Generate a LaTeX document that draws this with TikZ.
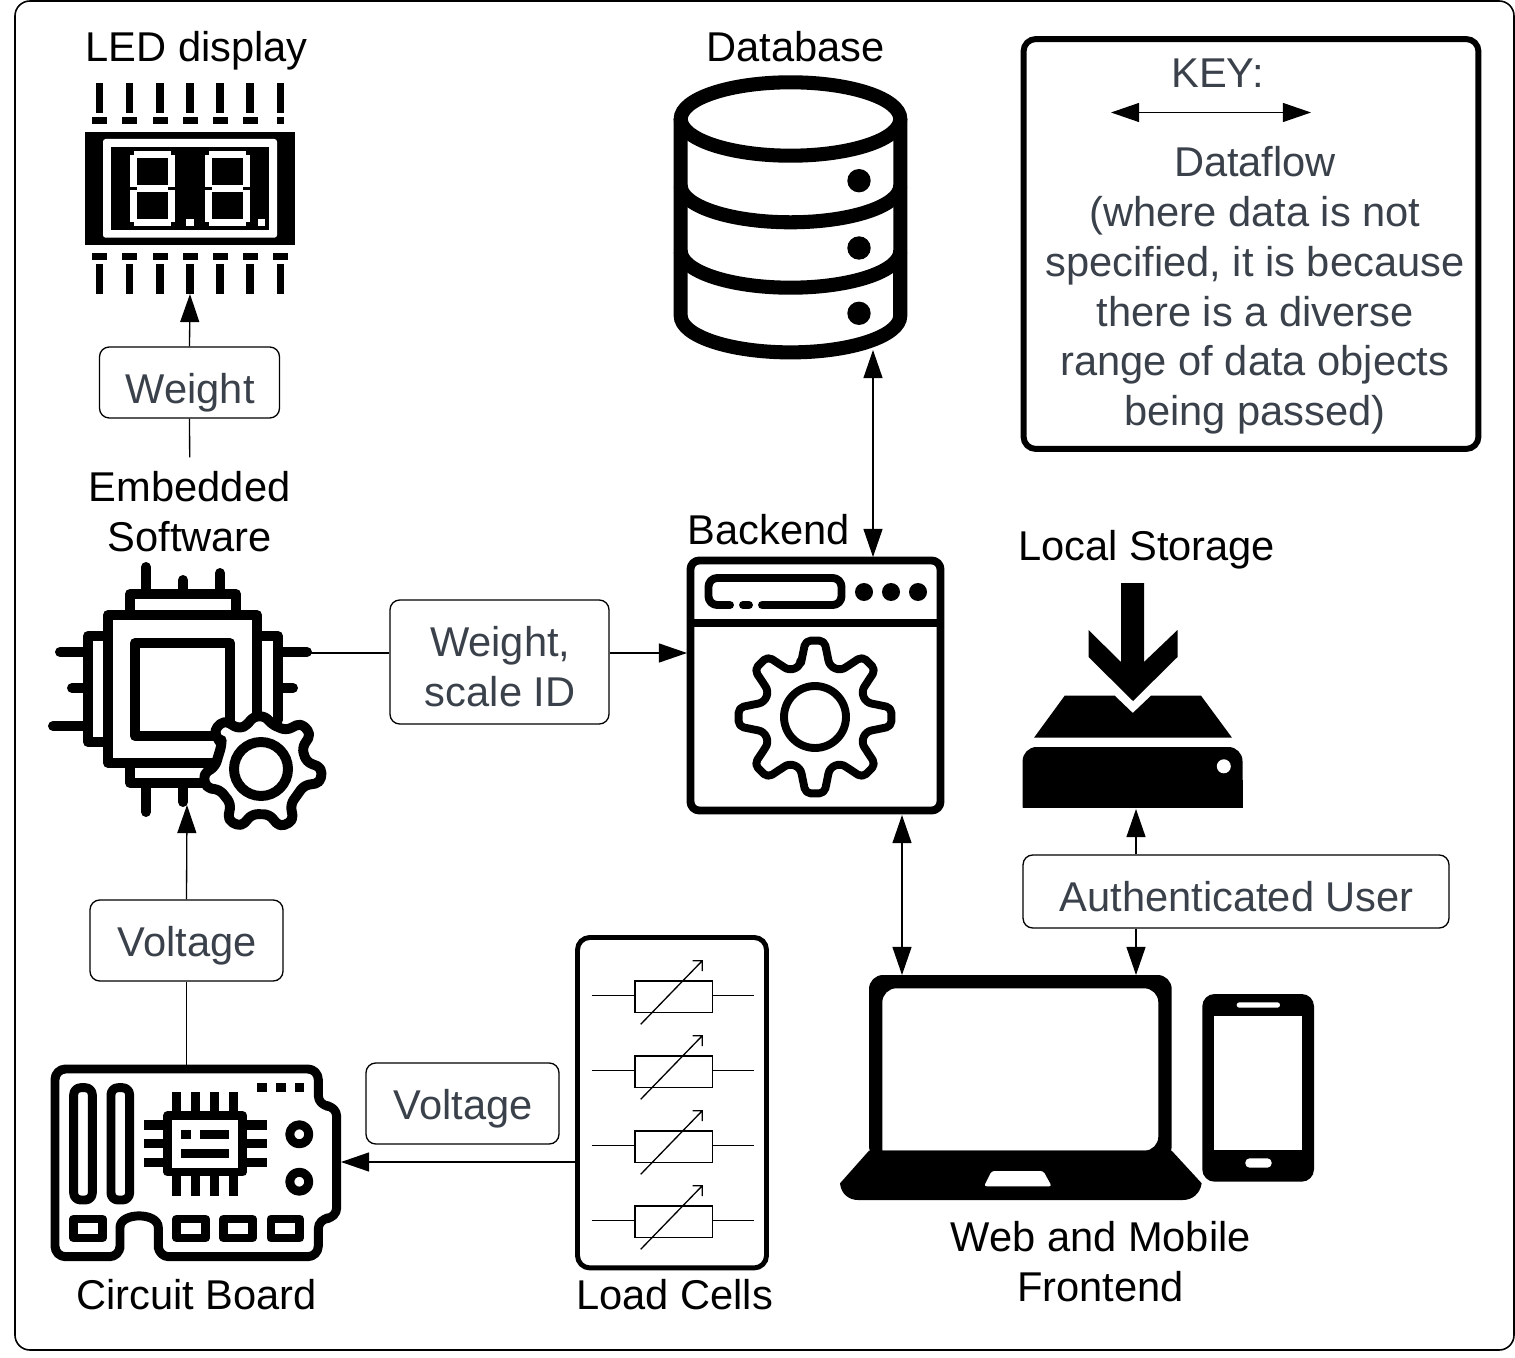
\documentclass[tikz,border=0pt]{standalone}
\usepackage{fontspec}
\setmainfont{Liberation Sans}
\usetikzlibrary{arrows.meta, positioning, calc}
\definecolor{slatetext}{HTML}{3A414A}

\begin{document}
\begin{tikzpicture}[
  x=0.02cm, y=-0.02cm,
  title/.style={font=\fontsize{23.7}{28.35}\selectfont, align=center, inner sep=3pt},
  datalabel/.style={draw, line width=0.75pt, rounded corners=5.5pt, fill=white, inner sep=0pt},
  labeltext/.style={yshift=-2.8pt, xshift=0.4pt, inner sep=0pt, align=center, text=slatetext, font=\fontsize{23.7}{28.35}\selectfont},
  icon/.style={inner sep=0pt, outer sep=0pt},
  flow/.style={line width=0.75pt, -{Triangle[length=16pt, width=10.8pt]}},
  biflow/.style={line width=0.75pt, {Triangle[length=16pt, width=10.8pt]}-{Triangle[length=16pt, width=10.8pt]}},
  plain/.style={line width=0.75pt},
  chipline/.style={line width=5.67pt, line cap=round, line join=round},
  boardline/.style={line width=5.1pt, line join=round},
  backline/.style={line width=4.5pt, line cap=round, line join=round},
  dbline/.style={line width=8pt}
]
  \useasboundingbox (0,0) rectangle (1515,1358);
  \fill[white] (0,0) rectangle (1515,1358);
  \draw[line width=0.9pt, rounded corners=8.5pt] (15,1) rectangle (1514,1350);

  % icon places, connectors end on these
  \node[icon, minimum width=4.2cm, minimum height=4.22cm] (led) at (190,188.5) {};
  \node[icon, minimum width=4.64cm, minimum height=5.66cm] (database) at (790.5,216.5) {};
  \node[icon, minimum width=5.14cm, minimum height=5.14cm] (backend) at (815.5,685.5) {};
  \node[icon, minimum width=4.4cm, minimum height=4.5cm] (storage) at (1133,695.5) {};
  \node[icon, minimum width=5.82cm, minimum height=3.9cm] (board) at (195.5,1162.5) {};
  \node[icon, minimum width=7.24cm, minimum height=4.5cm] (laptop) at (1021,1087.5) {};
  \node[draw, line width=2.8pt, rounded corners=7pt, minimum width=3.78cm, minimum height=6.61cm] (loadcells) at (672,1102.7) {};
  \node[draw, line width=3.4pt, rounded corners=7pt, minimum width=9.1cm, minimum height=8.2cm] (keybox) at (1251,244) {};
  \coordinate (chipout) at (311,653);
  \coordinate (chipin) at (187,805);
  \coordinate (dbport) at (873,350);
  \coordinate (backport) at (902,815);
  \coordinate (storeport) at (1136,809);
  \coordinate (cellport) at (577,1162);

  % LED display
  \fill (85,132) rectangle (295,244.7);
  \fill[white, rounded corners=1.5pt] (103,139) rectangle (277,237.7);
  \fill (111,147) rectangle (269,230);
  \foreach \px in {99.3,129.3,160,190,220,250,280.3} {
    \fill (\px-3.6,83) rectangle (\px+3.6,113);
    \fill (\px-3.6,264) rectangle (\px+3.6,294);
    \fill (\px-7.5,253) rectangle (\px+7.5,260);
  }
  \foreach \px in {99.3,129.3,160,190,220,250} \fill (\px-7.5,117) rectangle (\px+7.5,124);
  \fill (276.8,117) rectangle (283.8,124);
  \foreach \dx in {0,75} {
    \fill[white] (134+\dx,151) rectangle (171+\dx,158);
    \fill[white] (134+\dx,219) rectangle (171+\dx,226);
    \fill[white] (137+\dx,185) rectangle (168+\dx,192);
    \fill[white] (130+\dx,155) rectangle (137+\dx,187);
    \fill[white] (168+\dx,155) rectangle (175+\dx,187);
    \fill[white] (130+\dx,190) rectangle (137+\dx,222);
    \fill[white] (168+\dx,190) rectangle (175+\dx,222);
  }
  \fill[white] (186,219) rectangle (194,226);
  \fill[white] (258,219) rectangle (265,226);

  % database
  \draw[dbline] (680.7,119) -- (680.7,315.7) arc[start angle=180, end angle=360, x radius=2.196cm, y radius=0.734cm] -- (900.3,119);
  \draw[dbline] (790.5,119) ellipse[x radius=2.196cm, y radius=0.734cm];
  \foreach \py in {185.6,251} \draw[dbline] (680.7,\py) arc[start angle=180, end angle=360, x radius=2.196cm, y radius=0.734cm];
  \foreach \py in {180.7,248,313.3} \fill (859,\py) circle[radius=0.234cm];

  % embedded software
  \draw[chipline] (108,615) rectangle (257,763);
  \draw[chipline] (135,643) rectangle (230,736);
  \draw[chipline] (130,615) -- (130,594) -- (236,594) -- (236,615);
  \draw[chipline] (108,636) -- (88,636) -- (88,742) -- (108,742);
  \draw[chipline] (257,636) -- (278,636) -- (278,720);
  \draw[chipline] (130,763) -- (130,783) -- (205,783);
  \draw[chipline] (146,567) -- (146,594) (183,580) -- (183,594) (220,573) -- (220,594);
  \draw[chipline] (60,652) -- (88,652) (72,688) -- (88,688) (53,726) -- (88,726);
  \draw[chipline] (278,652) -- (307,652) (278,688) -- (293,688);
  \draw[chipline] (146,783) -- (146,812) (183,783) -- (183,802);
  \begin{scope}[shift={(261,769)}]
    \draw[chipline, fill=white, rounded corners=3pt] (-149:46) foreach \a/\r in {-134/61,-92/53,-42/61,6/61,65/61,116/61,168/58} { -- (\a-15:46) -- (\a-7:\r) -- (\a+7:\r) -- (\a+15:46) } -- cycle;
    \draw[line width=5.67pt] (0,0) circle[radius=0.54cm];
  \end{scope}

  % backend
  \draw[backline] (690.5,560.5) [rounded corners=5pt] rectangle (940.5,810.5);
  \draw[backline] (691,623) -- (940,623);
  \draw[backline, rounded corners=5pt] (730,605) -- (708.5,605) -- (708.5,578) -- (841.5,578) -- (841.5,605) -- (762,605);
  \draw[backline] (743,605) -- (749,605);
  \foreach \px in {864,891,918} \fill (\px,592) circle[radius=0.18cm];
  \begin{scope}[shift={(815,717)}]
    \draw[backline, rounded corners=3pt] (-106:53) foreach \a in {-90,-45,0,45,90,135,180,225} { -- (\a-16:53) -- (\a-7:77) -- (\a+7:77) -- (\a+16:53) } -- cycle;
    \draw[line width=4.5pt] (0,0) circle[radius=0.62cm];
  \end{scope}

  % local storage
  \fill (1121,583) -- (1144,583) -- (1144,662) -- (1177.5,630) -- (1177.5,657) -- (1133,701) -- (1088.5,657) -- (1088.5,630) -- (1121,662) -- cycle;
  \fill (1064.7,695.7) -- (1114.7,695.7) -- (1132.8,713) -- (1151,695.7) -- (1201,695.7) -- (1232,737.7) -- (1034,737.7) -- cycle;
  \fill[rounded corners=8pt] (1022.6,807.7) -- (1022.6,747) -- (1242.5,747) -- (1242.5,807.7) [sharp corners] -- cycle;
  \fill (1022.6,780) rectangle (1242.5,807.7);
  \fill[white] (1223.8,766.3) circle[radius=0.14cm];

  % circuit board
  \draw[boardline, rounded corners=6pt] (55,1069) -- (318.3,1069) -- (318.3,1106) -- (336.7,1106) -- (336.7,1218.3) -- (318.3,1218.3) -- (318.3,1256.7) -- (158.3,1256.7) -- (158.3,1238) .. controls (158.3,1212) and (120,1212) .. (120,1238) -- (120,1256.7) -- (55,1256.7) -- cycle;
  \foreach \px in {73.7,111} \draw[boardline, rounded corners=4pt] (\px,1087.7) rectangle (\px+18.6,1200);
  \foreach \px in {73.7,176.7,223.7,271} \draw[boardline] (\px,1219) rectangle (\px+28.7,1238);
  \foreach \px in {257,276,294.7} \fill (\px,1083) rectangle (\px+9.6,1092);
  \foreach \py in {1134.3,1181.7} \draw[boardline] (299.3,\py) circle[radius=0.19cm];
  \draw[boardline] (167.7,1115.7) rectangle (242.7,1172);
  \foreach \px in {176.7,195.7,214.7,233.7} {
    \fill (\px-4.7,1092) rectangle (\px+4.7,1113);
    \fill (\px-4.7,1175) rectangle (\px+4.7,1196);
  }
  \foreach \py in {1125,1143.7,1162.7} {
    \fill (144,\py-4.7) rectangle (165,\py+4.7);
    \fill (245,\py-4.7) rectangle (266.7,\py+4.7);
  }
  \fill (181.3,1130) rectangle (191,1139.3);
  \fill (200.3,1130) rectangle (229,1139.3);
  \fill (181.3,1148.7) rectangle (229,1158.3);

  % load cells
  \foreach \dy in {0,75,150,225} {
    \draw[plain] (591.7,995.7+\dy) -- (635,995.7+\dy) (712.7,995.7+\dy) -- (754,995.7+\dy);
    \draw[plain] (635,981+\dy) rectangle (712.7,1012.7+\dy);
    \draw[plain] (640.7,1024.3+\dy) -- (702.3,960.7+\dy) (692.7,960.7+\dy) -- (702.3,960.7+\dy) -- (702.3,971+\dy);
  }

  % laptop and phone
  \fill[even odd rule, rounded corners=8pt] (869,1160) -- (869,975) -- (1171.7,975) -- (1171.7,1160) -- cycle
    (882.3,1150.7) -- (882.3,988.3) -- (1158.3,988.3) -- (1158.3,1150.7) [sharp corners] -- cycle;
  \fill (869,1150.7) -- (1171.7,1150.7) -- (1201.7,1183.3) .. controls (1200,1194) and (1192,1200) .. (1183,1200) -- (858,1200) .. controls (849,1200) and (841,1194) .. (840,1183.3) -- cycle;
  \fill[white, rounded corners=1.5pt] (991.7,1171) -- (1043.3,1171) -- (1051.7,1186.3) -- (984,1186.3) -- cycle;
  \fill[rounded corners=7pt] (1202.3,994) rectangle (1314,1181.7);
  \fill[white] (1214,1016) rectangle (1302.3,1150);
  \fill[white, rounded corners=1.5pt] (1236.7,1002.3) rectangle (1280,1007.7);
  \fill[white, rounded corners=2.5pt] (1245.3,1158.3) rectangle (1271.7,1167.7);

  % titles
  \node[title] (ledtitle) at (196.7,51) {LED display};
  \node[title] (dbtitle) at (795.7,47) {Database};
  \node[title, inner ysep=8pt] (embedded) at (189.7,512) {Embedded\\Software};
  \node[title] (backendtitle) at (768.7,530) {Backend};
  \node[title] (storagetitle) at (1146.7,550) {Local Storage};
  \node[title] (frontend) at (1100.7,1262) {Web and Mobile\\Frontend};
  \node[title] (boardtitle) at (196.7,1295) {Circuit Board};
  \node[title] (cellstitle) at (674.7,1295) {Load Cells};

  % data labels
  \node[datalabel, minimum width=3.6cm, minimum height=1.42cm, label={[labeltext, yshift=-2.8pt]center:Weight}] (weightlabel) at (189.5,382.5) {};
  \node[datalabel, minimum width=4.38cm, minimum height=2.48cm, label={[labeltext]center:{Weight,\\scale ID}}] (weightid) at (499.5,662) {};
  \node[datalabel, minimum width=3.86cm, minimum height=1.62cm, label={[labeltext]center:Voltage}] (voltageup) at (186.5,940.5) {};
  \node[datalabel, minimum width=3.86cm, minimum height=1.62cm, label={[labeltext]center:Voltage}] (voltageside) at (462.5,1103.5) {};
  \node[datalabel, minimum width=8.52cm, minimum height=1.46cm, label={[labeltext]center:Authenticated User}] (authuser) at (1236,891.5) {};

  % key
  \node[title, text=slatetext] (keytitle) at (1217.7,73) {KEY:};
  \node[title, text=slatetext] (keytext) at (1255,290.5) {Dataflow\\(where data is not\\specified, it is because\\there is a diverse\\range of data objects\\being passed)};
  \coordinate (keyleft) at (1111,112.5);
  \coordinate (keyright) at (1311,112.5);
  \draw[biflow] (keyleft) -- (keyright);

  % connectors
  \draw[plain] (embedded.north) -- (weightlabel.south);
  \draw[flow] (weightlabel.north) -- (led.south);
  \draw[plain] (chipout) -- (chipout -| weightid.west);
  \draw[flow] (chipout -| weightid.east) -- (chipout -| backend.west);
  \draw[plain] (board.north -| voltageup.south) -- (voltageup.south);
  \draw[flow] (voltageup.north) -- (chipin);
  \draw[flow] (cellport) -- (cellport -| board.east);
  \draw[biflow] (dbport) -- (dbport |- backend.north);
  \draw[biflow] (backport) -- (backport |- laptop.north);
  \draw[flow] (storeport |- authuser.north) -- (storeport);
  \draw[flow] (storeport |- authuser.south) -- (storeport |- laptop.north);
\end{tikzpicture}
\end{document}
